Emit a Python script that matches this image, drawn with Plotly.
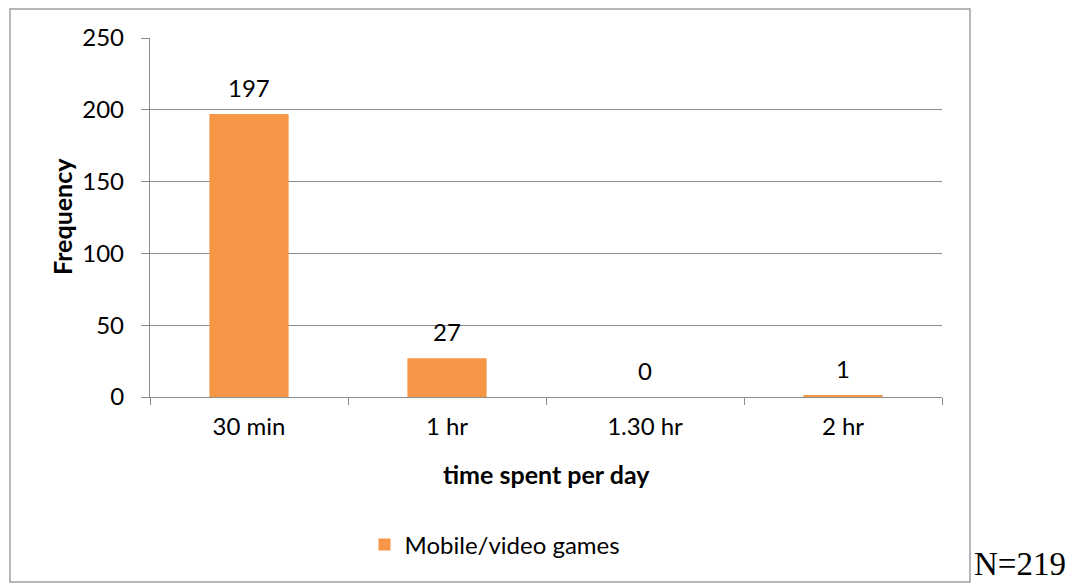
import plotly.graph_objects as go

categories = ["30 min", "1 hr", "1.30 hr", "2 hr"]
values = [197, 27, 0, 1]
series_name = "Mobile/video games"
y_ticks = [0, 50, 100, 150, 200, 250]

FONT = "Lato, 'Open Sans', sans-serif"
GRID = "#8c8c8c"
FS = 24

L, R, T, B = 150, 135, 38, 187
W, H = 1077, 584
pw, ph = W - L - R, H - T - B

def px_x(x):
    return (x - L) / pw

def px_y(y):
    return (H - B - y) / ph

fig = go.Figure()
fig.add_trace(go.Bar(
    x=categories, y=values, name=series_name,
    marker=dict(color="#F79646", line=dict(width=0)),
    width=0.4,
    cliponaxis=False,
))

annotations = [
    dict(text=str(v), x=c, y=v, xref="x", yref="y", showarrow=False,
         xanchor="center", yanchor="middle", yshift=27,
         font=dict(family=FONT, size=FS, color="#000000"))
    for c, v in zip(categories, values)
]
annotations += [
    dict(text="<b>Frequency</b>", xref="paper", yref="paper", x=px_x(62), y=px_y(217),
         textangle=-90, showarrow=False, xanchor="center", yanchor="middle",
         font=dict(family=FONT, size=25)),
    dict(text="<b>time spent per day</b>", xref="paper", yref="paper", x=px_x(546), y=px_y(474),
         showarrow=False, xanchor="center", yanchor="middle",
         font=dict(family=FONT, size=25)),
    dict(text="N=219", xref="paper", yref="paper", x=px_x(972), y=px_y(584),
         showarrow=False, xanchor="left", yanchor="bottom",
         font=dict(family="'Liberation Serif', 'Times New Roman', serif", size=33)),
]

fig.update_layout(
    width=W, height=H,
    margin=dict(l=L, r=R, t=T, b=B, pad=0),
    paper_bgcolor="white", plot_bgcolor="white",
    font=dict(family=FONT, size=FS, color="#000000"),
    showlegend=True,
    legend=dict(orientation="h", x=px_x(495), y=px_y(545), xanchor="center", yanchor="middle",
                font=dict(family=FONT, size=FS), itemwidth=30),
    xaxis=dict(showline=True, linecolor=GRID, linewidth=1.3, ticks="outside", tickson="boundaries",
               ticklen=7, tickcolor=GRID, tickwidth=1.3, showgrid=False,
               tickfont=dict(family=FONT, size=FS), ticklabelstandoff=8),
    yaxis=dict(range=[0, 250], tickvals=y_ticks, showline=True, linecolor=GRID, linewidth=1.3,
               ticks="outside", ticklen=8, tickcolor=GRID, tickwidth=1.3,
               showgrid=True, gridcolor=GRID, gridwidth=1.3, zeroline=False,
               tickfont=dict(family=FONT, size=FS), ticklabelstandoff=12),
    shapes=[dict(type="rect", xref="paper", yref="paper",
                 x0=px_x(10), x1=px_x(970), y0=px_y(582), y1=px_y(9),
                 line=dict(color="#a0a0a0", width=1.5), fillcolor="rgba(0,0,0,0)", layer="below")],
    annotations=annotations,
)

fig.write_html("out.html")
